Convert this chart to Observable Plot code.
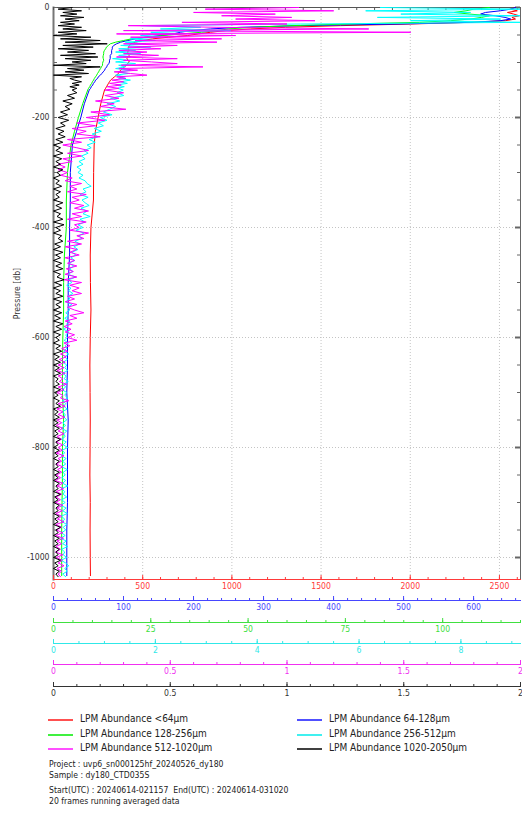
<!DOCTYPE html>
<html><head><meta charset="utf-8">
<script src="https://cdn.jsdelivr.net/npm/d3@7"></script>
<script src="https://cdn.jsdelivr.net/npm/@observablehq/plot@0.6"></script>
<style>
html,body{margin:0;padding:0;background:#fff;}
#wrap{position:relative;width:522px;height:813px;overflow:hidden;font-family:"DejaVu Sans Condensed","DejaVu Sans",sans-serif;}
#chart{position:absolute;left:0;top:0;width:522px;height:700px;}
#chart svg{position:absolute;left:0;top:0;}
.leg{position:absolute;font-size:10px;color:#222;white-space:nowrap;line-height:12px;}
.legline{position:absolute;height:0;border-top:2px solid;width:25px;}
.info{position:absolute;left:49px;font-size:8.6px;color:#222;white-space:pre;line-height:11px;}
</style></head><body>
<div id="wrap"><div id="chart"></div></div>
<script>
// ---- series meta ----
const seriesNames = ["LPM Abundance <64µm","LPM Abundance 64-128µm","LPM Abundance 128-256µm","LPM Abundance 256-512µm","LPM Abundance 512-1020µm","LPM Abundance 1020-2050µm"];
const seriesColors = ["#ff0000","#0000ff","#00ff00","#00ffff","#ff00ff","#000000"];
const axisColors = ["#ff3a3a","#4646ff","#40e040","#30e8e8","#f030f0","#333333"];
const legendColors = ["#ff5050","#5050ff","#40f040","#40f0f0","#ff50ff","#404040"];
const axisMax = [2618, 667, 120, 9.17, 2, 2];
const majorTicks = [[0,500,1000,1500,2000,2500],[0,100,200,300,400,500,600],[0,25,50,75,100],[0,2,4,6,8],[0,0.5,1,1.5,2],[0,0.5,1,1.5,2]];
const minorStep = [100, 20, 5, 0.5, 0.1, 0.1];
const yTicks = [0,-200,-400,-600,-800,-1000];
const infoLines = ["Project : uvp6_sn000125hf_20240526_dy180","Sample : dy180_CTD035S","Start(UTC) : 20240614-021157  End(UTC) : 20240614-031020","20 frames running averaged data"];

// ---- pressure grids (db) ----
const pTop = [0,3,6,9,12,15,18,21,24,27,30,33,36,39,42,45,48,51,54,57,60,63,66,69,72,75,78,81,84,87,90,93,96,99,102,105,108,111,114,117,120,123,126,129,132,135,138,141,144,147,150];
const pDeep = [155,160,165,170,175,180,185,190,195,200,205,210,215,220,225,230,235,240,245,250,
  255,260,265,270,275,280,285,290,295,300,305,310,315,320,325,330,335,340,345,350,
  355,360,365,370,375,380,385,390,395,400,405,410,415,420,425,430,435,440,445,450,
  455,460,465,470,475,480,485,490,495,500,505,510,515,520,525,530,535,540,545,550,
  555,560,565,570,575,580,585,590,595,600,605,610,615,620,625,630,635,640,645,650,
  655,660,665,670,675,680,685,690,695,700,705,710,715,720,725,730,735,740,745,750,
  755,760,765,770,775,780,785,790,795,800,805,810,815,820,825,830,835,840,845,850,
  855,860,865,870,875,880,885,890,895,900,905,910,915,920,925,930,935,940,945,950,
  955,960,965,970,975,980,985,990,995,1000,1005,1010,1015,1020,1025,1030,1035];
const pSmooth = [175,200,225,250,300,350,400,450,500,550,600,650,700,750,800,850,900,950,1000,1033];

// ---- values ----
const redTop = [2590,2560,2600,2545,2580,2610,2570,2590,2534,2338,2001,1609,1301,1104,964,880,813,751,645,555,499,460,432,426,420,418,422,415,420,424,416,412,418,425,415,409,398,387,376,370,364,353,342,331,320,314,308,303,297,292,286];
const redDeep = [265,250,235,228,225,224,210,206,207,210,206,204,205,206,205,204,206,205,206,207];
const blueTop = [660,653,638,617,610,631,645,653,638,595,495,353,267,224,196,181,171,153,131,117,106,96,90,86,84,84,83,83,83,81,81,81,80,80,79,77,76,74,73,71,69,67,64,63,60,59,57,56,54,53,51];
const blueDeep = [44,39,33,27,24,24,23,23,21,21,20,20,19,21,20,20,20,19,19,19];
const greenTop = [112,108,106,103,107,112,110,107,102,94,76,61,51,45,42,38,33,28,24,20,18,16,14.6,14.1,13.6,13.4,13.1,12.9,12.9,12.8,12.7,12.8,12.9,12.7,12.6,12.6,12.3,12.1,11.8,11.6,11.3,11.1,10.8,10.5,10.3,10.0,9.8,9.5,9.3,9.0,8.8];
const greenDeep = [7.5,6.4,5.4,4.5,3.6,3.3,3.3,2.8,2.6,2.6,2.4,2.3,2.3,2.6,2.3,2.3,2.2,2.1,2.1,2.1];
const cyanTop = [6.42,9.17,6.13,8.19,6.82,9.17,6.36,8.78,7.01,9.17,4.85,1.71,2.89,2.10,3.48,1.91,2.40,1.71,2.10,1.51,2.00,1.41,1.81,1.32,1.91,1.28,1.61,1.22,1.71,1.28,1.51,1.16,1.47,1.22,1.61,1.28,1.41,1.22,1.51,1.28,1.47,1.22,1.41,1.28,1.51,1.32,1.45,1.22,1.39,1.26,1.37];
const cyanDeep = [1.25,1.38,1.12,1.30,1.05,1.22,1.10,0.98,1.15,0.92,1.05,0.88,0.98,0.80,0.94,0.76,0.88,0.70,0.82,0.66,
  0.74,0.60,0.68,0.55,0.62,0.50,0.58,0.46,0.54,0.48,0.58,0.50,0.62,0.66,0.74,0.58,0.64,0.52,0.68,0.56,
  0.62,0.70,0.54,0.66,0.58,0.72,0.52,0.62,0.48,0.58,0.44,0.60,0.50,0.56,0.42,0.52,0.40,0.48,0.36,0.44,
  0.34,0.42,0.30,0.40,0.32,0.38,0.28,0.44,0.30,0.36,0.26,0.34,0.30,0.38,0.28,0.32,0.24,0.36,0.28,0.32,
  0.24,0.30,0.22,0.32,0.26,0.28,0.20,0.30,0.24,0.27,0.21,0.29,0.23,0.26,0.20,0.30,0.22,0.27,0.19,0.26,
  0.22,0.28,0.18,0.25,0.21,0.29,0.19,0.24,0.17,0.26,0.22,0.28,0.18,0.24,0.20,0.27,0.17,0.23,0.21,0.26,
  0.18,0.24,0.15,0.26,0.20,0.23,0.16,0.25,0.19,0.28,0.17,0.22,0.15,0.25,0.18,0.24,0.16,0.27,0.19,0.23,
  0.16,0.24,0.18,0.28,0.15,0.22,0.19,0.26,0.16,0.23,0.14,0.25,0.18,0.27,0.15,0.22,0.17,0.26,0.19,0.24,
  0.16,0.23,0.14,0.25,0.18,0.28,0.16,0.22,0.19,0.26,0.15,0.24,0.30,0.22,0.27,0.18,0.24];
const magentaTop = [1.05,0.65,1.20,0.60,0.95,0.72,1.02,0.78,1.12,0.55,1.00,0.32,0.70,1.35,0.30,1.53,0.27,0.78,0.33,0.72,0.35,0.70,0.30,0.53,0.32,0.46,0.28,0.40,0.30,0.45,0.27,0.53,0.30,0.42,0.53,0.29,0.64,0.28,0.36,0.26,0.33,0.40,0.27,0.31,0.25,0.30,0.24,0.29,0.23,0.28,0.22];
const magentaDeep = [0.30,0.22,0.28,0.18,0.26,0.20,0.31,0.16,0.24,0.14,0.22,0.10,0.18,0.08,0.14,0.10,0.20,0.06,0.12,0.04,
  0.10,0.15,0.06,0.12,0.04,0.08,0.02,0.05,0.02,0.06,0.03,0.08,0.05,0.12,0.07,0.10,0.06,0.14,0.08,0.11,
  0.07,0.13,0.09,0.15,0.08,0.12,0.06,0.14,0.09,0.11,0.07,0.15,0.10,0.13,0.06,0.12,0.05,0.10,0.07,0.11,
  0.05,0.09,0.06,0.10,0.055,0.085,0.05,0.10,0.045,0.12,0.07,0.11,0.08,0.12,0.06,0.09,0.05,0.10,0.06,0.09,
  0.13,0.07,0.10,0.05,0.08,0.045,0.075,0.05,0.09,0.06,0.10,0.045,0.07,0.035,0.06,0.03,0.055,0.025,0.05,0.02,
  0.045,0.015,0.05,0.02,0.04,0.025,0.055,0.02,0.045,0.015,0.04,0.03,0.065,0.02,0.05,0.015,0.04,0.02,0.048,0.015,
  0.035,0.012,0.04,0.02,0.045,0.015,0.035,0.01,0.04,0.02,0.038,0.012,0.045,0.02,0.035,0.01,0.04,0.018,0.035,0.012,
  0.03,0.008,0.04,0.015,0.043,0.012,0.035,0.01,0.03,0.009,0.04,0.015,0.038,0.01,0.035,0.017,0.045,0.01,0.035,0.012,
  0.04,0.009,0.043,0.015,0.035,0.01,0.03,0.008,0.04,0.012,0.038,0.02,0.045,0.015,0.035,0.02,0.03];
const blackTop = [0.08,0.02,0.12,0.04,0.10,0.03,0.13,0.05,0.11,0.03,0.09,0.02,0.12,0.04,0.14,0.02,0.10,0.00,0.16,0.03,0.20,0.05,0.23,0.04,0.17,0.02,0.15,0.06,0.18,0.03,0.19,0.05,0.16,0.08,0.14,0.00,0.20,0.06,0.13,0.05,0.15,0.00,0.12,0.07,0.09,0.12,0.08,0.11,0.07,0.10,0.08];
const blackDeep = [0.10,0.06,0.09,0.04,0.08,0.05,0.07,0.03,0.06,0.02,0.065,0.03,0.05,0.01,0.045,0.02,0.05,0.01,0.04,0.00,
  0.03,0.01,0.04,0.00,0.035,0.01,0.03,0.00,0.04,0.015,0.03,0.00,0.025,0.01,0.035,0.00,0.03,0.01,0.025,0.00,
  0.04,0.01,0.035,0.00,0.03,0.015,0.04,0.00,0.045,0.01,0.03,0.00,0.035,0.02,0.04,0.005,0.03,0.00,0.04,0.01,
  0.03,0.00,0.035,0.01,0.04,0.00,0.03,0.015,0.045,0.005,0.035,0.00,0.03,0.01,0.04,0.00,0.035,0.01,0.03,0.00,
  0.035,0.005,0.03,0.00,0.04,0.01,0.035,0.00,0.03,0.01,0.025,0.00,0.03,0.01,0.035,0.00,0.025,0.005,0.03,0.00,
  0.025,0.005,0.03,0.00,0.02,0.01,0.025,0.00,0.03,0.005,0.02,0.00,0.025,0.01,0.03,0.00,0.02,0.005,0.025,0.00,
  0.02,0.00,0.025,0.005,0.02,0.00,0.03,0.01,0.02,0.00,0.025,0.005,0.02,0.00,0.025,0.01,0.02,0.00,0.025,0.005,
  0.02,0.00,0.025,0.01,0.02,0.00,0.03,0.005,0.02,0.00,0.025,0.01,0.02,0.00,0.025,0.005,0.02,0.00,0.03,0.01,
  0.02,0.00,0.025,0.005,0.02,0.00,0.025,0.01,0.02,0.00,0.03,0.005,0.02,0.00,0.025,0.01,0.02];

const seriesTop = [redTop, blueTop, greenTop, cyanTop, magentaTop, blackTop];
const seriesDeep = [redDeep, blueDeep, greenDeep, cyanDeep, magentaDeep, blackDeep];
const deepGrid = [pSmooth, pSmooth, pSmooth, pDeep, pDeep, pDeep];

// ---- layout ----
const W = 522, H = 700, mTop = 7, frameBottom = 579, mLeft = 53, mRight = 2;
const axisOffset = [0, 21, 43, 64, 85, 107];
const FONT = '"DejaVu Sans Condensed","DejaVu Sans",sans-serif';

function rows(k) {
  const r = [];
  pTop.forEach((p, i) => { if (seriesTop[k][i] != null) r.push({p: -p, v: seriesTop[k][i]}); });
  deepGrid[k].forEach((p, i) => { if (seriesDeep[k][i] != null) r.push({p: -p, v: seriesDeep[k][i]}); });
  return r;
}
const fmt = d => String(+d.toFixed(3));

function makePlot(k) {
  const off = axisOffset[k], col = axisColors[k];
  const majors = majorTicks[k];
  const minors = d3.range(0, axisMax[k] + 1e-9, minorStep[k]).map(v => +v.toFixed(4));
  const marks = [];
  if (k === 0) {
    const yMinor = d3.range(0, -1040, -50);
    marks.push(
      Plot.gridX(majors.slice(1), {stroke: "#c4c4c4", strokeOpacity: 1, strokeDasharray: "1,2"}),
      Plot.gridY(yTicks.slice(1), {stroke: "#c4c4c4", strokeOpacity: 1, strokeDasharray: "1,2"}),
      Plot.frame({anchor: "top", stroke: "#555"}),
      Plot.frame({anchor: "right", stroke: "#666"}),
      Plot.frame({anchor: "left", stroke: "#777", strokeWidth: 2}),
      Plot.axisX({ticks: minors, anchor: "bottom", tickSize: 3, fill: "none", stroke: "#555", dy: -(frameBottom - mTop), label: null}),
      Plot.axisY({ticks: yMinor, anchor: "left", tickSize: 3, fill: "none", stroke: "#666", dx: W - mRight - mLeft, label: null}),
      Plot.axisY({ticks: yTicks, anchor: "left", tickSize: 5, fill: "none", stroke: "#666", strokeWidth: 2, dx: W - mRight - mLeft, label: null}),
      Plot.axisY({ticks: yMinor, anchor: "right", tickSize: 3, fill: "none", stroke: "#666", dx: -(W - mRight - mLeft), label: null}),
      Plot.axisY({ticks: yTicks, anchor: "left", tickSize: 0, tickPadding: 4, fill: "#333", tickFormat: d => String(d),
        label: "Pressure [db]", labelAnchor: "center", labelOffset: 40, labelArrow: "none"})
    );
  }
  marks.push(
    Plot.line(rows(k), {x: "v", y: "p", stroke: seriesColors[k], strokeWidth: 1, clip: true}),
    Plot.frame({anchor: "bottom", stroke: col, dy: off}),
    Plot.axisX({ticks: minors, anchor: "top", tickSize: 3, fill: "none", stroke: col, dy: frameBottom - mTop + off, label: null}),
    Plot.axisX({ticks: majors, anchor: "top", tickSize: 5, fill: "none", stroke: col, dy: frameBottom - mTop + off, label: null}),
    Plot.axisX({ticks: majors, anchor: "bottom", tickSize: 0, tickPadding: 3, fill: col, dy: off, label: null, tickFormat: fmt})
  );
  return Plot.plot({
    width: W, height: H, marginTop: mTop, marginBottom: H - frameBottom, marginLeft: mLeft, marginRight: mRight,
    x: {domain: [0, axisMax[k]], axis: null},
    y: {domain: [-1040, 0], axis: null},
    style: {background: "transparent", fontFamily: FONT, fontSize: "8.6px", color: "#333", overflow: "visible"},
    marks
  });
}

const chart = document.getElementById("chart");
for (let k = 0; k < 6; k++) chart.appendChild(makePlot(k));

// ---- legend ----
const wrap = document.getElementById("wrap");
const legRowY = [719, 734, 748];
const legColX = [48, 297];
seriesNames.forEach((name, k) => {
  const row = Math.floor(k / 2), c = k % 2;
  const ln = document.createElement("div");
  ln.className = "legline";
  ln.style.left = legColX[c] + "px"; ln.style.top = legRowY[row] + "px";
  ln.style.borderTopColor = legendColors[k];
  wrap.appendChild(ln);
  const t = document.createElement("div");
  t.className = "leg"; t.textContent = name;
  t.style.left = (legColX[c] + 32) + "px"; t.style.top = (legRowY[row] - 6) + "px";
  wrap.appendChild(t);
});
const infoY = [765, 776, 791, 802];
infoLines.forEach((s, i) => {
  const t = document.createElement("div");
  t.className = "info"; t.textContent = s; t.style.top = (infoY[i] - 6) + "px";
  wrap.appendChild(t);
});
</script>
</body></html>
